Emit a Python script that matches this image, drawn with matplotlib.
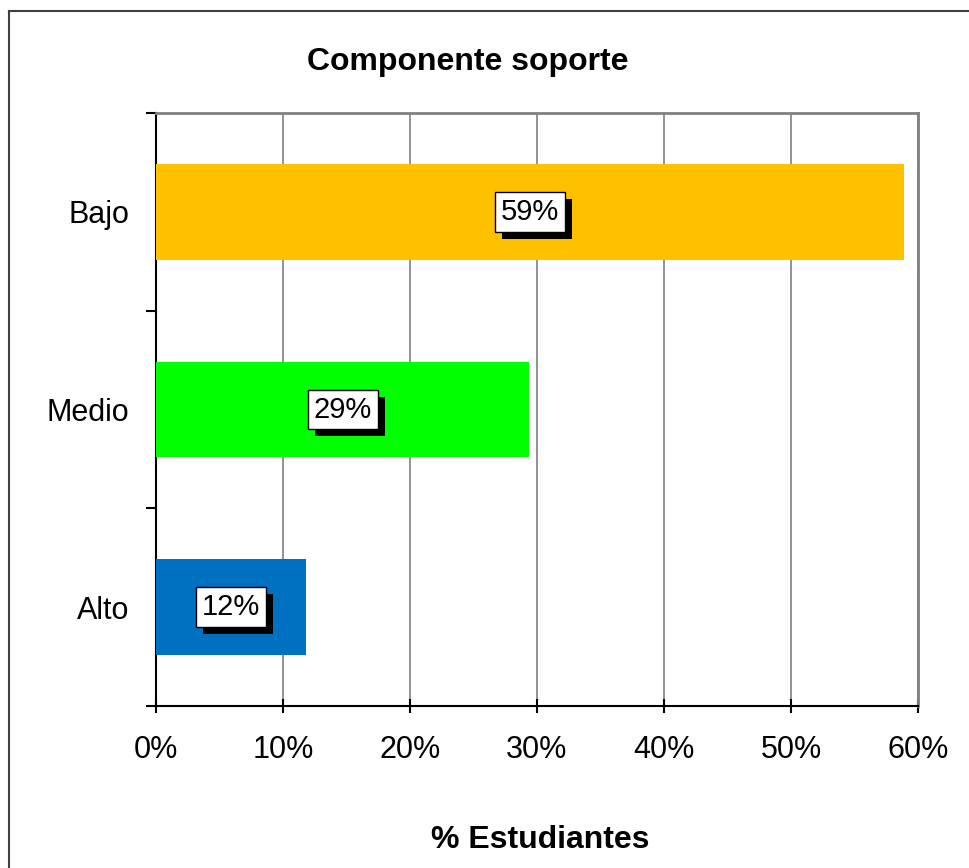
import numpy as np
import matplotlib.pyplot as plt
import matplotlib.patheffects as pe
from matplotlib.lines import Line2D

plt.rcParams['font.family'] = ['Liberation Sans', 'DejaVu Sans']

categorias = ['Alto', 'Medio', 'Bajo']
valores = [11.8, 29.4, 58.9]
etiquetas = ['12%', '29%', '59%']
colores = ['#0070C0', '#00FF00', '#FFC000']
xticks = [0, 10, 20, 30, 40, 50, 60]

fig = plt.figure(figsize=(9.69, 8.68), dpi=100)
ax = fig.add_axes([156/969, 1-706/868, (918-156)/969, (706-113)/868])

Y = np.arange(len(categorias))
bars = ax.barh(Y, valores, height=0.485, color=colores, zorder=3)

ax.set_xlim(0, 60)
ax.set_ylim(-0.5, 2.5)
ax.set_xticks(xticks)
ax.set_xticklabels([f'{t}%' for t in xticks], fontsize=22)
ax.tick_params(axis='x', direction='inout', length=10, width=1.5, pad=16)
ax.set_yticks([-0.5, 0.5, 1.5, 2.5])
ax.set_yticklabels([])
ax.set_yticks(Y, minor=True)
ax.set_yticklabels(categorias, minor=True, fontsize=22)
ax.tick_params(axis='y', which='major', direction='out', length=7, width=1.5)
ax.tick_params(axis='y', which='minor', length=0, pad=19)
ax.grid(axis='x', color='#808080', linewidth=1.2, zorder=0)

ax.spines['left'].set_linewidth(1.5)
ax.spines['bottom'].set_linewidth(1.5)
ax.spines['top'].set_color('#808080')
ax.spines['right'].set_color('#808080')
ax.spines['top'].set_linewidth(2)
ax.spines['right'].set_linewidth(2)

for b, lab in zip(bars, etiquetas):
    t = ax.text(b.get_width()/2, b.get_y() + b.get_height()/2, lab,
                ha='center', va='center', fontsize=21, zorder=5,
                bbox=dict(boxstyle='square,pad=0.2', fc='white', ec='black', lw=1))
    t.get_bbox_patch().set_path_effects([
        pe.SimplePatchShadow(offset=(5, -5), shadow_rgbFace='black', alpha=1),
        pe.Normal()])

fig.text(468/969, 1-62/868, 'Componente soporte', ha='center', va='center',
         fontsize=23, fontweight='bold')
fig.text(540/969, 1-840/868, '% Estudiantes', ha='center', va='center',
         fontsize=23, fontweight='bold')

fig.add_artist(Line2D([9/969, 9/969], [0, 1-11/868], color='#404040', lw=1.5,
                      transform=fig.transFigure))
fig.add_artist(Line2D([9/969, 1], [1-11/868, 1-11/868], color='#404040', lw=1.5,
                      transform=fig.transFigure))

fig.savefig('out.png', dpi=100)
